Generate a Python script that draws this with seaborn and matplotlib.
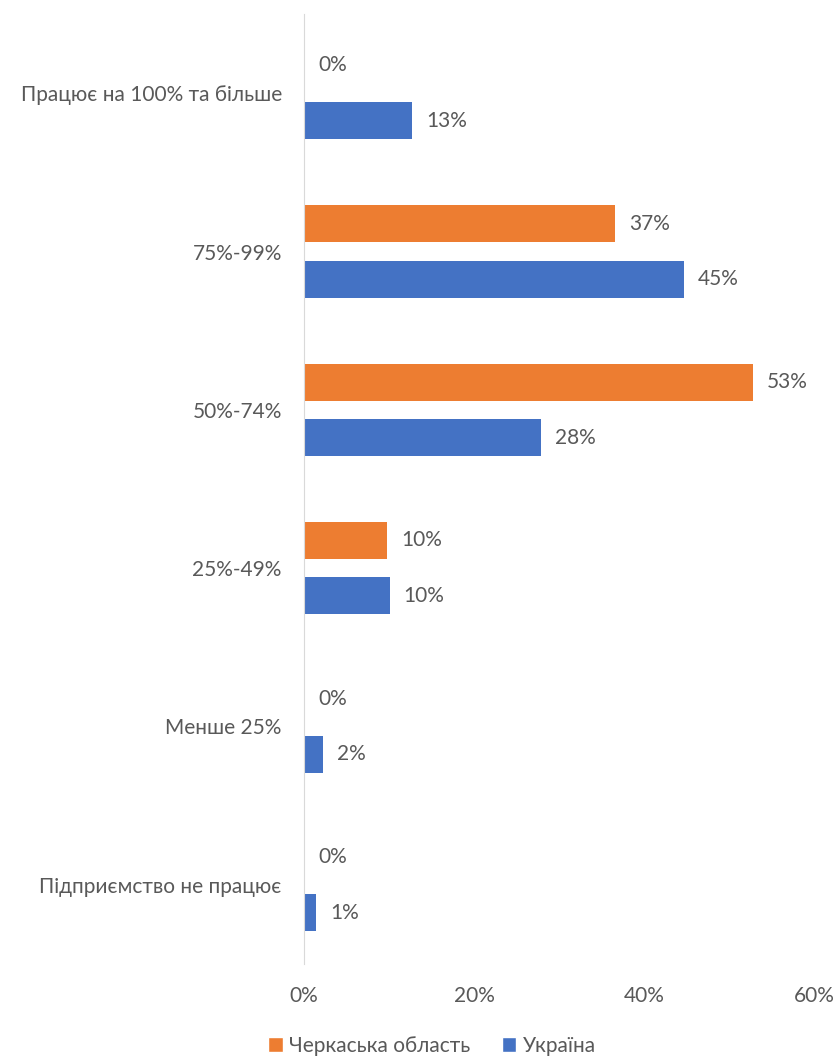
"""Bar chart: enterprise workload, Cherkasy region vs Ukraine."""

import matplotlib.pyplot as plt
import pandas as pd
import seaborn as sns
from matplotlib.patches import Patch

categories = [
    "Працює на 100% та більше",
    "75%-99%",
    "50%-74%",
    "25%-49%",
    "Менше 25%",
    "Підприємство не працює",
]
series = ["Черкаська область", "Україна"]
cherkasy = [0.0, 36.6, 52.8, 9.8, 0.0, 0.0]
ukraine = [12.7, 44.7, 27.9, 10.1, 2.2, 1.4]
xticks = [0, 20, 40, 60]
colors = ["#ED7D31", "#4472C4"]

df = pd.DataFrame(
    {
        "category": categories * 2,
        "region": [series[0]] * len(categories) + [series[1]] * len(categories),
        "value": cherkasy + ukraine,
    }
)

sns.set_style("white")
plt.rcParams["font.family"] = ["Lato", "Open Sans", "DejaVu Sans"]
text_color = "#595959"
fs = 15

fig = plt.figure(figsize=(8.34, 10.57), dpi=100)
ax = fig.add_axes([0.3645, 1 - 964 / 1057, 0.976 - 0.3645, (964 - 14) / 1057])

sns.barplot(
    data=df, y="category", x="value", hue="region", order=categories,
    hue_order=series, palette=colors, saturation=1, width=0.7, gap=0.33,
    orient="h", legend=False, linewidth=0, ax=ax,
)

for container in ax.containers:
    labels = [f"{bar.get_width():.0f}%" for bar in container]
    ax.bar_label(container, labels=labels, padding=10, fontsize=fs, color=text_color)

ax.set_xlim(0, 60)
ax.set_xticks(xticks)
ax.set_xticklabels([f"{t}%" for t in xticks], fontsize=fs, color=text_color)
ax.tick_params(axis="x", length=0, pad=16)
ax.tick_params(axis="y", length=0, pad=16, labelsize=fs, labelcolor=text_color)
ax.set_xlabel("")
ax.set_ylabel("")
for side in ["top", "right", "bottom"]:
    ax.spines[side].set_visible(False)
ax.spines["left"].set_color("#d9d9d9")

handles = [Patch(facecolor=c, label=s) for c, s in zip(colors, series)]
fig.legend(
    handles=handles, loc="center", bbox_to_anchor=(0.518, 1 - 1046 / 1057),
    ncol=2, frameon=False, fontsize=fs, labelcolor=text_color,
    handlelength=0.7, handleheight=0.7, handletextpad=0.3, columnspacing=1.5,
)

fig.savefig("out.png", dpi=100)
plt.close(fig)
